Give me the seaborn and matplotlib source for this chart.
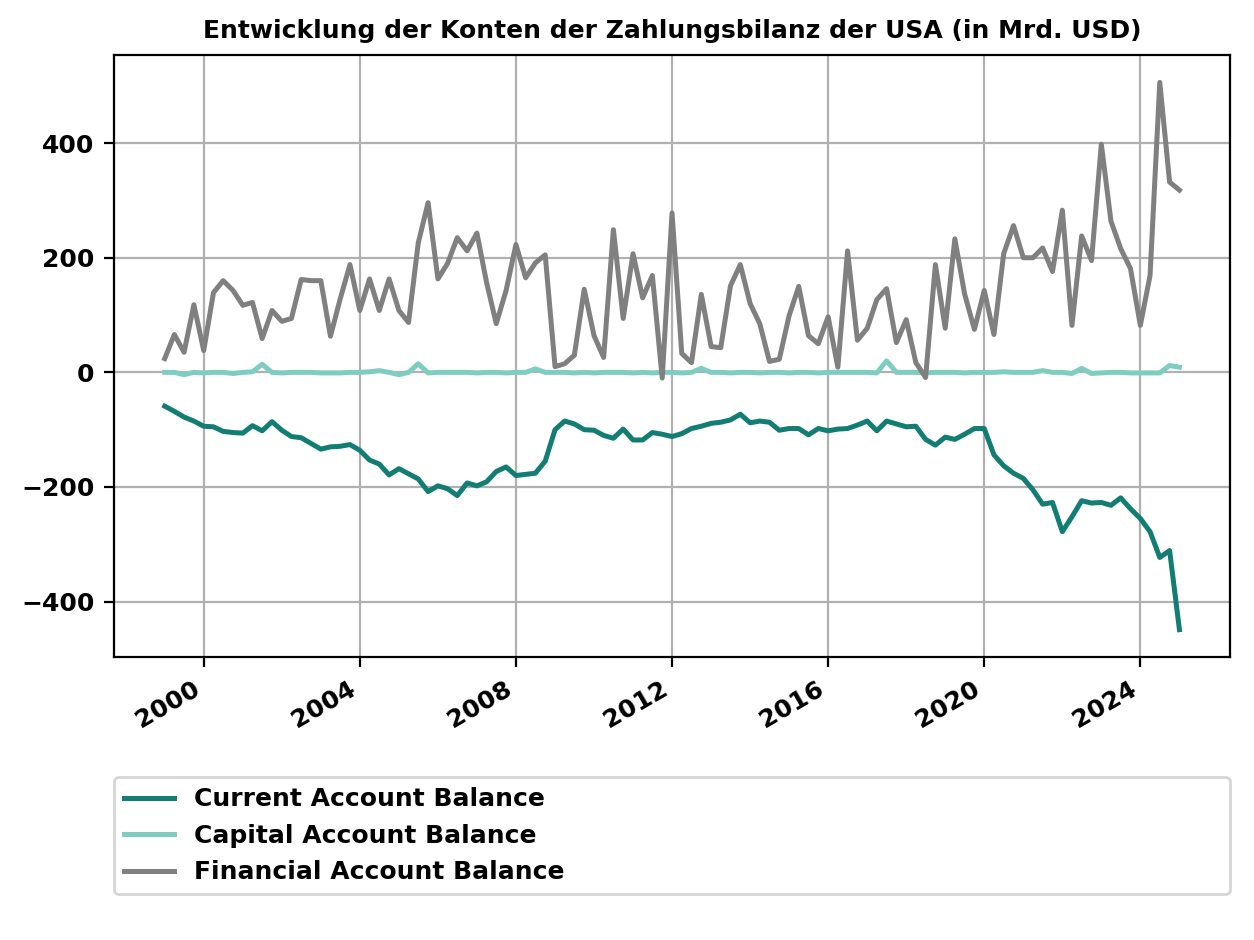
import numpy as np
import pandas as pd
import matplotlib
matplotlib.use("Agg")
import matplotlib.pyplot as plt
import matplotlib.dates as mdates
from matplotlib.lines import Line2D
import seaborn as sns

dates = pd.date_range("1999-01-01", "2025-01-01", freq="QS")

current_account = [
    -59, -68, -78, -85, -94, -95, -103, -105, -106, -93,
    -102, -86, -101, -112, -114, -124, -134, -130, -129, -126,
    -136, -153, -160, -179, -168, -177, -186, -208, -198, -203,
    -215, -193, -198, -191, -173, -165, -180, -178, -176, -155,
    -100, -85, -90, -100, -101, -110, -115, -99, -118, -118,
    -105, -108, -112, -107, -98, -94, -89, -87, -83, -73,
    -88, -85, -87, -101, -98, -98, -109, -98, -102, -99,
    -98, -92, -85, -102, -85, -90, -95, -94, -117, -127,
    -113, -117, -108, -98, -98, -144, -163, -176, -185, -205,
    -230, -227, -278, -252, -224, -228, -227, -232, -219, -238,
    -255, -278, -323, -311, -449,
]

capital_account = [
    0, 0, -4, 0, -1, 0, 0, -2, 0, 1,
    14, 0, -1, 0, 0, 0, -1, -1, -1, 0,
    0, 1, 3, 0, -4, 0, 15, -1, 0, 0,
    0, 0, -1, 0, 0, -1, 0, 0, 6, 0,
    0, 0, -1, 0, -1, 0, 0, 0, -1, 0,
    -1, 0, 0, -1, 0, 7, 0, 0, -1, 0,
    0, -1, 0, 0, -1, 0, 0, -1, 0, 0,
    0, 0, 0, -1, 20, 0, 0, 0, -1, 0,
    0, 0, -1, 0, 0, 0, 1, 0, 0, 0,
    3, 0, 0, -2, 7, -2, -1, 0, 0, -1,
    -1, -1, -1, 12, 9,
]

financial_account = [
    24, 66, 35, 118, 38, 139, 160, 143, 117, 122,
    59, 108, 89, 94, 162, 160, 160, 63, 128, 188,
    108, 163, 108, 163, 108, 87, 226, 296, 163, 190,
    235, 212, 243, 157, 85, 143, 223, 165, 191, 205,
    10, 15, 30, 145, 64, 26, 249, 94, 207, 130,
    169, -10, 278, 33, 17, 136, 45, 43, 151, 188,
    120, 85, 19, 23, 99, 150, 64, 50, 97, 9,
    212, 56, 77, 127, 146, 52, 92, 17, -9, 188,
    77, 233, 137, 75, 143, 66, 207, 256, 200, 200,
    217, 176, 283, 82, 238, 195, 398, 264, 216, 181,
    82, 169, 506, 332, 318,
]

series_names = ["Current Account Balance", "Capital Account Balance", "Financial Account Balance"]
colors = ["#127d72", "#7fcdc1", "#808080"]

df = pd.DataFrame({
    "date": np.tile(dates, 3),
    "value": current_account + capital_account + financial_account,
    "series": np.repeat(series_names, len(dates)),
})

plt.rcParams["font.family"] = ["DejaVu Sans"]
plt.rcParams["font.weight"] = "bold"
plt.rcParams["axes.titleweight"] = "bold"

fig = plt.figure(figsize=(6.27, 4.7), dpi=200)
ax = fig.add_axes([0.0909, 0.301, 0.8901, 0.6405])

sns.lineplot(data=df, x="date", y="value", hue="series", hue_order=series_names,
             palette=dict(zip(series_names, colors)), linewidth=1.8, ax=ax, legend=False)

ax.set_title("Entwicklung der Konten der Zahlungsbilanz der USA (in Mrd. USD)",
             fontsize=9, fontweight="bold")
ax.set_xlabel("")
ax.set_ylabel("")
ax.grid(True, color="#b0b0b0", linewidth=0.8)
ax.set_axisbelow(True)
ax.xaxis.set_major_locator(mdates.YearLocator(4))
ax.xaxis.set_major_formatter(mdates.DateFormatter("%Y"))
ax.set_yticks([-400, -200, 0, 200, 400])
ax.tick_params(labelsize=9)
for lbl in ax.get_xticklabels():
    lbl.set_rotation(30)
    lbl.set_horizontalalignment("right")
    lbl.set_fontweight("bold")
for lbl in ax.get_yticklabels():
    lbl.set_fontweight("bold")

handles = [Line2D([0], [0], color=c, linewidth=1.8) for c in colors]
ax.legend(handles, series_names, loc="upper left", bbox_to_anchor=(0, -0.2, 1, 0.0),
          mode="expand", borderaxespad=0, prop={"weight": "bold", "size": 9})

fig.savefig("out.png", dpi=200)
